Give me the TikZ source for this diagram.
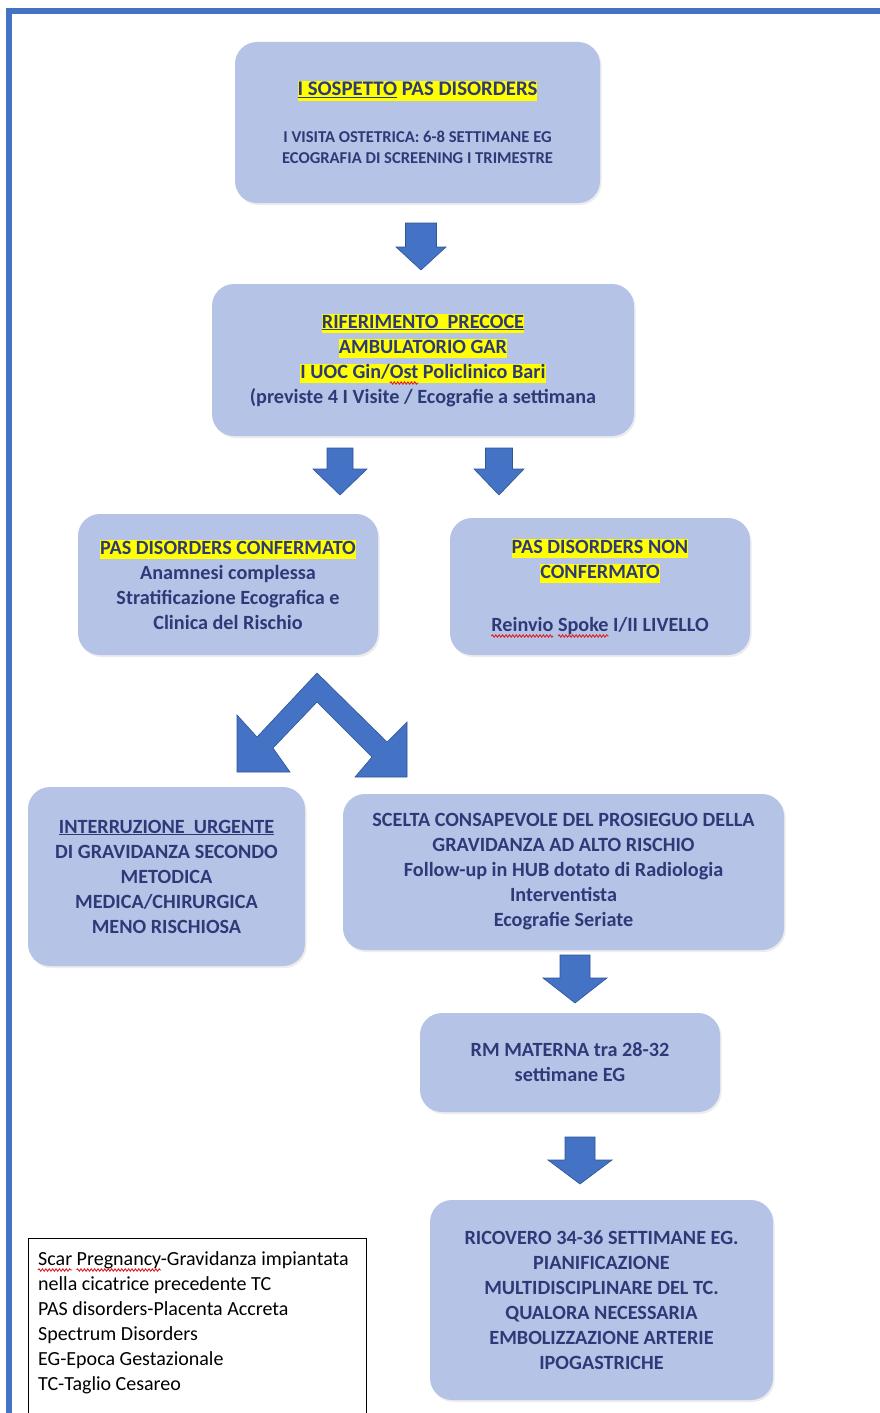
\documentclass[tikz,border=0pt]{standalone}
\usepackage{fontspec}
\setmainfont{Carlito}
\usetikzlibrary{shadows,decorations.pathmorphing}
\definecolor{boxfill}{HTML}{B5C3E7}
\definecolor{navy}{HTML}{2E3A78}
\definecolor{arrfill}{HTML}{4472C4}
\definecolor{arrline}{HTML}{2F5597}
\definecolor{hly}{HTML}{FFFF00}
\definecolor{framec}{HTML}{4472C4}
\definecolor{wavered}{HTML}{E02020}
\newcommand\hly[1]{{\setlength{\fboxsep}{0pt}\colorbox{hly}{\rule[-0.25em]{0pt}{0.97em}#1}}}
\newcommand\bxfont{\fontsize{20.2}{25}\selectfont\bfseries}
\newcommand\ttlfont{\fontsize{20.8}{25}\selectfont\bfseries}
\newcommand\smfont{\fontsize{16.6}{21}\selectfont\bfseries}
\newcommand\lgfont{\fontsize{20}{25}\selectfont}
\newlength\wOstLine \newlength\wOstPre \newlength\wOst
\newlength\wReLine \newlength\wRe \newlength\wReSp \newlength\wReSpoke
\newlength\wSc \newlength\wScSp \newlength\wScPr
\AtBeginDocument{%
  \settowidth\wOstLine{\normalfont\bxfont I UOC Gin/Ost Policlinico Bari}%
  \settowidth\wOstPre{\normalfont\bxfont I UOC Gin/}%
  \settowidth\wOst{\normalfont\bxfont Ost}%
  \settowidth\wReLine{\normalfont\bxfont Reinvio Spoke I/II LIVELLO}%
  \settowidth\wRe{\normalfont\bxfont Reinvio}%
  \settowidth\wReSp{\normalfont\bxfont Reinvio\ }%
  \settowidth\wReSpoke{\normalfont\bxfont Reinvio Spoke}%
  \settowidth\wSc{\normalfont\lgfont Scar}%
  \settowidth\wScSp{\normalfont\lgfont Scar\ }%
  \settowidth\wScPr{\normalfont\lgfont Scar Pregnancy}%
}
% down block arrow: centre x, top y, shaft half width, head half width, shaft length, total length
\newcommand\dnarrow[6]{%
  \draw[blockarrow] (#1-#3,#2) -- (#1+#3,#2) -- (#1+#3,#2+#5) -- (#1+#4,#2+#5)
    -- (#1,#2+#6) -- (#1-#4,#2+#5) -- (#1-#3,#2+#5) -- cycle;}
\begin{document}
\begin{tikzpicture}[x=1pt,y=-1pt,
  box/.style={fill=boxfill, rounded corners=22pt, align=center, text=navy,
    font=\bxfont, inner sep=0pt,
    drop shadow={shadow xshift=1.5pt, shadow yshift=-2pt, opacity=0.15, fill=gray}},
  blockarrow/.style={fill=arrfill, draw=arrline, line width=0.6pt, line join=miter},
  frameline/.style={draw=framec, line width=6pt, line join=miter},
  legendline/.style={draw=black, line width=0.9pt},
  spellwave/.style={draw=wavered, line width=0.9pt, decorate,
    decoration={snake, amplitude=1.2pt, segment length=3.4pt}}]
\useasboundingbox (0,0) rectangle (880,1413);
\fill[white] (0,0) rectangle (880,1413);
% outer frame
\draw[frameline] (9,1440) -- (9,11.5) -- (900,11.5);

% boxes
\node[box, minimum width=365pt, minimum height=161pt] (b1) at (417.5,122.5)
  {{\ttlfont\hly{\underline{I SOSPETTO} PAS DISORDERS}}\\[22pt]
   {\smfont I VISITA OSTETRICA: 6-8 SETTIMANE EG}\\[-4pt]
   {\smfont ECOGRAFIA DI SCREENING I TRIMESTRE}};

\node[box, minimum width=422pt, minimum height=152pt] (b2) at (423,360)
  {\hly{\underline{RIFERIMENTO\ \ PRECOCE}}\\
   \hly{AMBULATORIO GAR}\\
   \hly{I UOC Gin/Ost Policlinico Bari}\\
   (previste 4 I Visite / Ecografie a settimana};

\node[box, minimum width=300pt, minimum height=141pt] (b3) at (228,584.5)
  {\hly{PAS DISORDERS CONFERMATO}\\
   Anamnesi complessa\\
   Stratificazione Ecografica e\\
   Clinica del Rischio};

\node[box, minimum width=300pt, minimum height=137pt] (b4) at (600,586.5)
  {\hly{PAS DISORDERS NON}\\
   \hly{CONFERMATO}\\[28pt]
   Reinvio Spoke I/II LIVELLO};

\node[box, minimum width=277pt, minimum height=179pt] (b5) at (166.5,876.5)
  {\underline{INTERRUZIONE\ \ URGENTE}\\
   DI GRAVIDANZA SECONDO\\
   METODICA\\
   MEDICA/CHIRURGICA\\
   MENO RISCHIOSA};

\node[box, minimum width=441pt, minimum height=156pt] (b6) at (563.5,872)
  {SCELTA CONSAPEVOLE DEL PROSIEGUO DELLA\\
   GRAVIDANZA AD ALTO RISCHIO\\
   Follow-up in HUB dotato di Radiologia\\
   Interventista\\
   Ecografie Seriate};

\node[box, minimum width=300pt, minimum height=99pt] (b7) at (570,1062.5)
  {RM MATERNA tra 28-32\\
   settimane EG};

\node[box, minimum width=343pt, minimum height=200pt] (b8) at (601.5,1300)
  {RICOVERO 34-36 SETTIMANE EG.\\
   PIANIFICAZIONE\\
   MULTIDISCIPLINARE DEL TC.\\
   QUALORA NECESSARIA\\
   EMBOLIZZAZIONE ARTERIE\\
   IPOGASTRICHE};

% block arrows
\dnarrow{421}{223}{15.5}{25}{24}{47}
\dnarrow{340}{448}{13}{27}{21}{47}
\dnarrow{499}{448}{13.5}{25}{21}{47}
\dnarrow{575}{955}{15}{32}{23}{48}
\dnarrow{580}{1137}{15}{32}{23}{47}

% forked chevron arrow
\draw[blockarrow] (317,673) -- (387,742) -- (407,722) -- (407,777) -- (355,777)
  -- (372,757) -- (317,702) -- (273,748) -- (290,772) -- (237,772) -- (237,715)
  -- (257,737) -- cycle;

% legend
\draw[legendline] (28,1440) -- (28,1238) -- (366,1238) -- (366,1440);
\node[anchor=north west, inner sep=0pt, align=left, font=\lgfont, text=black] (legend) at (38,1251)
  {Scar Pregnancy-Gravidanza impiantata\\
   nella cicatrice precedente TC\\
   PAS disorders-Placenta Accreta\\
   Spectrum Disorders\\
   EG-Epoca Gestazionale\\
   TC-Taglio Cesareo};

% spell-check wavy underlines
\pgfmathsetmacro\xa{423-0.5*\wOstLine+\wOstPre}
\pgfmathsetmacro\xb{\xa+\wOst}
\coordinate (ostA) at (\xa,383);
\coordinate (ostB) at (\xb,383);
\draw[spellwave] (ostA) -- (ostB);
\pgfmathsetmacro\xa{600-0.5*\wReLine}
\pgfmathsetmacro\xb{\xa+\wRe}
\pgfmathsetmacro\xc{\xa+\wReSp}
\pgfmathsetmacro\xd{\xa+\wReSpoke}
\coordinate (reA) at (\xa,636);
\coordinate (reB) at (\xb,636);
\coordinate (spA) at (\xc,636);
\coordinate (spB) at (\xd,636);
\draw[spellwave] (reA) -- (reB);
\draw[spellwave] (spA) -- (spB);
\pgfmathsetmacro\xb{38+\wSc}
\pgfmathsetmacro\xc{38+\wScSp}
\pgfmathsetmacro\xd{38+\wScPr}
\coordinate (scA) at (38,1270);
\coordinate (scB) at (\xb,1270);
\coordinate (prA) at (\xc,1270);
\coordinate (prB) at (\xd,1270);
\draw[spellwave] (scA) -- (scB);
\draw[spellwave] (prA) -- (prB);
\end{tikzpicture}
\end{document}
